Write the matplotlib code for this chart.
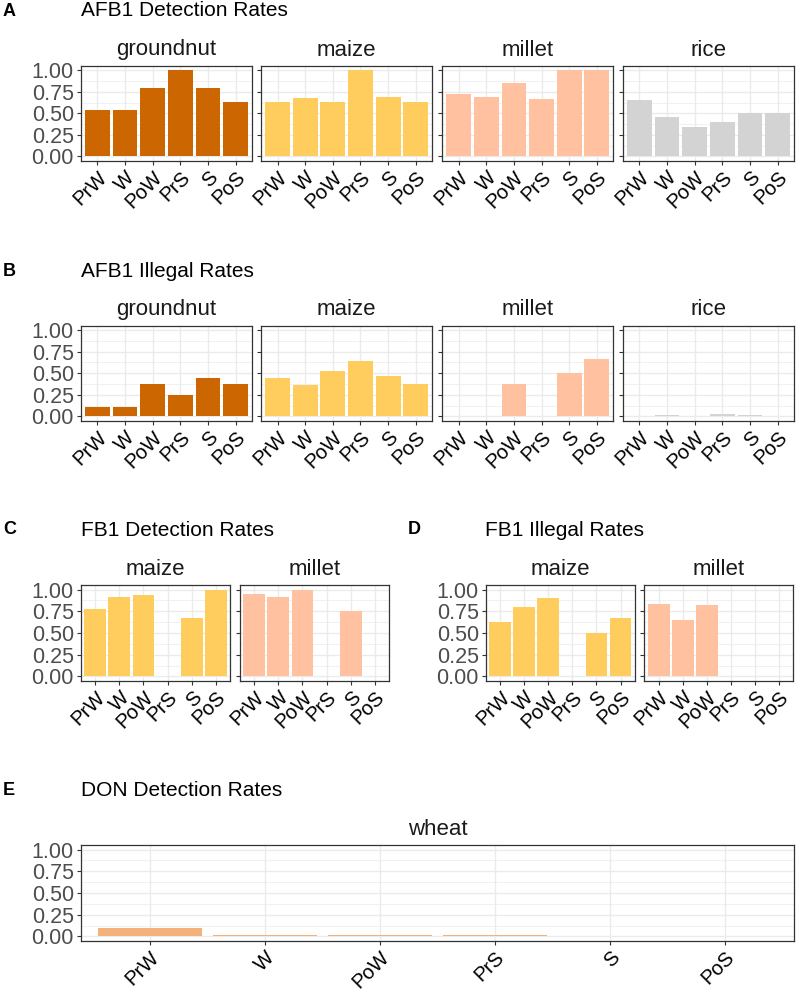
import numpy as np
import matplotlib.pyplot as plt

plt.rcParams['font.family'] = ['Liberation Sans', 'DejaVu Sans']

W, H = 796, 996

seasons = ['PrW', 'W', 'PoW', 'PrS', 'S', 'PoS']

# A: AFB1 detection rates
afb1_det_groundnut = [0.54, 0.54, 0.80, 1.00, 0.80, 0.63]
afb1_det_maize = [0.63, 0.68, 0.63, 1.00, 0.69, 0.63]
afb1_det_millet = [0.72, 0.69, 0.85, 0.67, 1.00, 1.00]
afb1_det_rice = [0.65, 0.46, 0.34, 0.40, 0.50, 0.50]

# B: AFB1 illegal rates
afb1_ill_groundnut = [0.11, 0.11, 0.37, 0.25, 0.45, 0.37]
afb1_ill_maize = [0.45, 0.36, 0.53, 0.64, 0.47, 0.38]
afb1_ill_millet = [0.0, 0.0, 0.38, 0.0, 0.50, 0.67]
afb1_ill_rice = [0.0, 0.02, 0.0, 0.03, 0.02, 0.0]

# C: FB1 detection rates
fb1_det_maize = [0.78, 0.92, 0.94, np.nan, 0.67, 1.00]
fb1_det_millet = [0.95, 0.91, 1.00, np.nan, 0.75, np.nan]

# D: FB1 illegal rates
fb1_ill_maize = [0.63, 0.80, 0.90, np.nan, 0.50, 0.67]
fb1_ill_millet = [0.83, 0.65, 0.82, np.nan, np.nan, np.nan]

# E: DON detection rates
don_det_wheat = [0.10, 0.02, 0.02, 0.02, 0.0, 0.0]

crop_colors = {'groundnut': '#CC6600', 'maize': '#FFCC5E', 'millet': '#FFC19F',
               'rice': '#D3D3D3', 'wheat': '#F3B27C'}


def px_axes(fig, x0, y0, x1, y1):
    return fig.add_axes([x0 / W, 1 - y1 / H, (x1 - x0) / W, (y1 - y0) / H])


def draw_panel(fig, box, values, crop, show_y):
    ax = px_axes(fig, *box)
    x = np.arange(1, len(seasons) + 1)
    ax.bar(x, values, width=0.9, color=crop_colors[crop], zorder=3)
    ax.set_xlim(0.4, len(seasons) + 0.6)
    ax.set_ylim(-0.05, 1.05)
    ax.set_xticks(x)
    ax.set_xticklabels(seasons, rotation=45, ha='right', va='top',
                       rotation_mode='anchor', fontsize=14.5, color='black')
    ax.set_yticks([0, 0.25, 0.5, 0.75, 1.0])
    ax.set_yticks([0.125, 0.375, 0.625, 0.875], minor=True)
    if show_y:
        ax.set_yticklabels(['0.00', '0.25', '0.50', '0.75', '1.00'],
                           fontsize=15.5, color='#4D4D4D')
    else:
        ax.set_yticklabels([])
        ax.tick_params(axis='y', length=0)
    ax.tick_params(axis='both', which='major', color='#333333', length=3,
                   width=0.8, pad=2)
    ax.tick_params(axis='y', which='minor', length=0)
    ax.grid(True, which='major', color='#EBEBEB', linewidth=1.0, zorder=0)
    ax.grid(True, which='minor', axis='y', color='#EBEBEB', linewidth=0.5,
            zorder=0)
    ax.set_axisbelow(True)
    for s in ax.spines.values():
        s.set_color('#333333')
        s.set_linewidth(0.9)
    cx = (box[0] + box[2]) / 2
    fig.text(cx / W, 1 - (box[1] - 16) / H, crop, fontsize=16,
             ha='center', va='center', color='#1A1A1A')
    return ax


def panel_title(fig, letter, lx, title, tx, y):
    fig.text(lx / W, 1 - y / H, letter, fontsize=13, fontweight='bold',
             ha='left', va='center')
    fig.text(tx / W, 1 - y / H, title, fontsize=15, ha='left', va='center')


fig = plt.figure(figsize=(W / 100, H / 100), dpi=100)

# Rows A / B
cols4 = [(80.7, 252.3), (261.0, 432.3), (442.3, 613.3), (622.7, 794.3)]
rowA = [afb1_det_groundnut, afb1_det_maize, afb1_det_millet, afb1_det_rice]
rowB = [afb1_ill_groundnut, afb1_ill_maize, afb1_ill_millet, afb1_ill_rice]
crops4 = ['groundnut', 'maize', 'millet', 'rice']
for i, ((x0, x1), vals, crop) in enumerate(zip(cols4, rowA, crops4)):
    draw_panel(fig, (x0, 66, x1, 160.7), vals, crop, i == 0)
for i, ((x0, x1), vals, crop) in enumerate(zip(cols4, rowB, crops4)):
    draw_panel(fig, (x0, 325.7, x1, 420.7), vals, crop, i == 0)
panel_title(fig, 'A', 3, 'AFB1 Detection Rates', 80.7, 11)
panel_title(fig, 'B', 3, 'AFB1 Illegal Rates', 80.7, 271)

# Rows C / D
draw_panel(fig, (80.7, 585.3, 230.3, 680.7), fb1_det_maize, 'maize', True)
draw_panel(fig, (239.7, 585.3, 389.3, 680.7), fb1_det_millet, 'millet', False)
draw_panel(fig, (485.7, 585.3, 635.0, 680.7), fb1_ill_maize, 'maize', True)
draw_panel(fig, (644.3, 585.3, 793.3, 680.7), fb1_ill_millet, 'millet', False)
panel_title(fig, 'C', 3, 'FB1 Detection Rates', 80.7, 530)
panel_title(fig, 'D', 408, 'FB1 Illegal Rates', 485, 530)

# Row E
draw_panel(fig, (80.7, 845.3, 794.0, 940.7), don_det_wheat, 'wheat', True)
panel_title(fig, 'E', 3, 'DON Detection Rates', 80.7, 790)

fig.savefig('out.png', dpi=100)
